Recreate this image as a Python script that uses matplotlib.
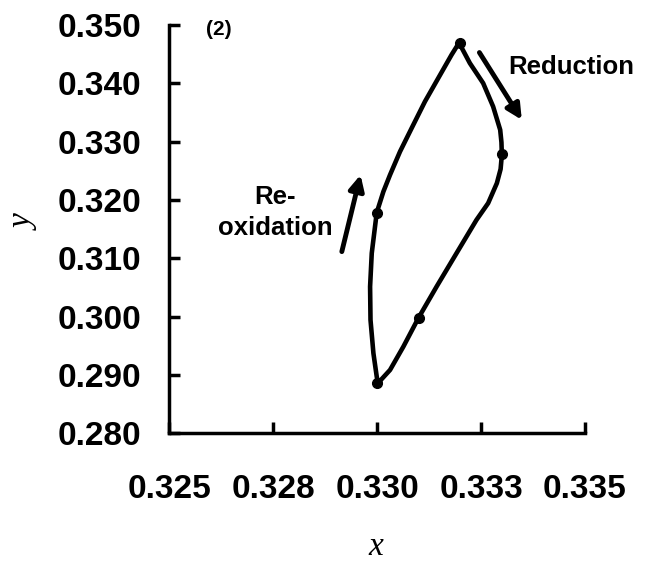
import matplotlib
matplotlib.use("Agg")
import matplotlib.pyplot as plt

# loop (top -> right side -> bottom -> left side -> top)
curve_x = [0.33197, 0.33223, 0.33255, 0.33279, 0.33296, 0.33299, 0.33300, 0.33297,
           0.33288, 0.33267, 0.33239, 0.33191, 0.33143, 0.33099, 0.33063, 0.33031,
           0.33002, 0.32999, 0.32991, 0.32984, 0.32983, 0.32987, 0.32999, 0.33015,
           0.33031, 0.33055, 0.33083, 0.33115, 0.33147, 0.33179, 0.33197]
curve_y = [0.34695, 0.34346, 0.34003, 0.33602, 0.33202, 0.32990, 0.32774, 0.32530,
           0.32288, 0.31945, 0.31659, 0.31088, 0.30515, 0.29973, 0.29485, 0.29086,
           0.28860, 0.28971, 0.29372, 0.29943, 0.30515, 0.31088, 0.31784, 0.32144,
           0.32431, 0.32830, 0.33232, 0.33688, 0.34089, 0.34489, 0.34695]

# measured points
point_x = [0.3320, 0.3330, 0.3310, 0.3300, 0.3300]
point_y = [0.3470, 0.3278, 0.2997, 0.2886, 0.3178]

x_ticks = [0.325, 0.3275, 0.330, 0.3325, 0.335]
x_tick_labels = ["0.325", "0.328", "0.330", "0.333", "0.335"]
y_ticks = [0.280, 0.290, 0.300, 0.310, 0.320, 0.330, 0.340, 0.350]
y_tick_labels = ["0.280", "0.290", "0.300", "0.310", "0.320", "0.330", "0.340", "0.350"]

plt.rcParams["font.family"] = ["Liberation Sans", "DejaVu Sans"]
plt.rcParams["font.weight"] = "bold"

fig = plt.figure(figsize=(6.51, 5.67), dpi=100)
ax = fig.add_axes([0.2601, 0.2358, 0.6385, 0.7201])

ax.plot(curve_x, curve_y, color="black", lw=3.3, solid_joinstyle="round", solid_capstyle="round")
ax.plot(point_x, point_y, "o", color="black", ms=7)

ax.set_xlim(0.325, 0.335)
ax.set_ylim(0.280, 0.350)
ax.set_xticks(x_ticks)
ax.set_xticklabels(x_tick_labels)
ax.set_yticks(y_ticks)
ax.set_yticklabels(y_tick_labels)

for side in ["top", "right"]:
    ax.spines[side].set_visible(False)
for side in ["left", "bottom"]:
    ax.spines[side].set_linewidth(2.5)

ax.tick_params(axis="both", direction="in", length=8, width=2.5, labelsize=24)
ax.tick_params(axis="x", pad=29)
ax.tick_params(axis="y", pad=20)
for lab in ax.get_xticklabels() + ax.get_yticklabels():
    lab.set_fontweight("bold")

# axis titles
fig.text(0.5776, 0.0353, "x", family="Liberation Serif", style="italic", fontweight="normal",
         fontsize=24, ha="center", va="center")
fig.text(0.0384, 0.6067, "y", family="Liberation Serif", style="italic", fontweight="normal",
         fontsize=24, ha="center", va="center", rotation=90)

# annotations
ax.text(0.3262, 0.3492, "(2)", fontsize=15, fontweight="bold", ha="center", va="center")
ax.text(0.33466, 0.34274, "Reduction", fontsize=18.5, fontweight="bold", ha="center", va="center")
ax.text(0.32754, 0.31780, "Re-\noxidation", fontsize=18.5, fontweight="bold",
        ha="center", va="center", linespacing=1.35)

arrow_style = dict(arrowstyle="-|>,head_length=0.9,head_width=0.45", color="black", lw=3.5,
                   shrinkA=0, shrinkB=0)
ax.annotate("", xy=(0.33348, 0.33374), xytext=(0.33246, 0.34528), arrowprops=arrow_style)
ax.annotate("", xy=(0.32960, 0.32431), xytext=(0.32915, 0.31115), arrowprops=arrow_style)

fig.savefig("out.png", dpi=100)
